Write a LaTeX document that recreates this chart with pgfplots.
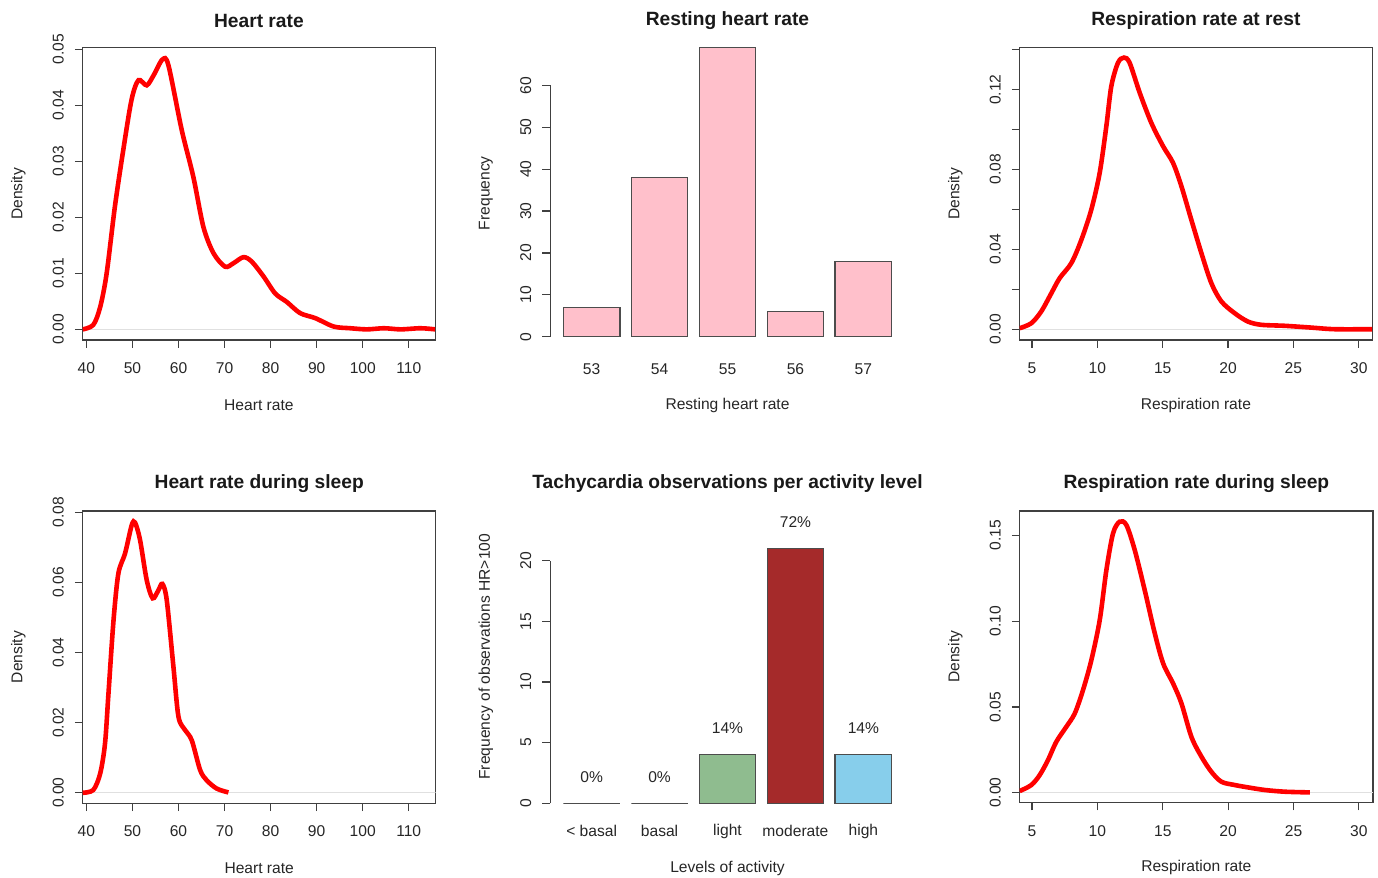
\documentclass[border=0pt]{standalone}
\usepackage{fontspec}
\setmainfont{Liberation Sans}
\usepackage{pgfplots}
\pgfplotsset{compat=1.18}
\definecolor{rpink}{HTML}{FFC0CB}
\definecolor{rgreen}{HTML}{8FBC8F}
\definecolor{rbrown}{HTML}{A52A2A}
\definecolor{rsky}{HTML}{87CEEB}
\pgfplotsset{
  rbase/.style={
    scale only axis, anchor=south west,
    tick align=outside, major tick length=3.9pt, tick pos=left,
    scaled y ticks=false, scaled x ticks=false,
    /pgf/number format/assume math mode=true,
    tick label style={font=\fontsize{7.8}{9}\selectfont, text=black!85},
    label style={font=\fontsize{7.8}{9}\selectfont, text=black!85},
    every axis title/.style={font=\fontsize{9.6}{11}\selectfont\bfseries, text=black!90, at={(0.5,1)}, anchor=center},
    xticklabel style={anchor=center}, xticklabel shift=10.2pt,
    yticklabel style={rotate=90, anchor=center}, yticklabel shift=8.3pt,
    tick style={black!75, line width=0.6pt},
    axis line style={black!75, line width=0.6pt},
    x label style={at={(axis description cs:0.5,0)}, anchor=center, yshift=-32.5pt},
  },
  dens/.style={red, line width=2.3pt, smooth, tension=0.5},
  zline/.style={black!12, line width=0.7pt},
}
\begin{document}
\begin{tikzpicture}
\useasboundingbox (0,0) rectangle (689pt,439pt);
% Panel 1: Heart rate
\begin{axis}[rbase, at={(41.35pt,269pt)}, width=176.2pt, height=146.1pt,
  xmin=39.2, xmax=115.7, ymin=-0.0019, ymax=0.0503,
  xtick={40,50,60,70,80,90,100,110},
  ytick={0,0.01,0.02,0.03,0.04,0.05}, yticklabels={0.00,0.01,0.02,0.03,0.04,0.05},
  title={Heart rate}, title style={yshift=13.5pt},
  xlabel={Heart rate}, ylabel={Density},
  y label style={at={([xshift=-32.2pt]axis description cs:0,0.5)}, anchor=center}]
\addplot[zline] coordinates {(39.2,0) (115.7,0)};
\addplot[dens] coordinates {
(39.2,0) (41.5,0.0008) (43.0,0.004) (44.4,0.010) (46.2,0.022) (48.0,0.032)
(49.8,0.041) (51.3,0.0445) (53.1,0.0436) (54.6,0.0454) (56.5,0.0482) (57.8,0.0472)
(60.7,0.0356) (63.2,0.0273) (65.4,0.0183) (67.6,0.0136) (70.1,0.0112) (71.9,0.0118)
(74.1,0.0129) (75.9,0.0121) (78.5,0.0094) (81.0,0.0064) (83.5,0.0049) (86.4,0.0029)
(89.7,0.0020) (93.7,0.0005) (97.3,0.0002) (100.9,0.0) (104.6,0.0002) (108.2,0.0)
(112.5,0.0002) (115.7,0.0)};
\end{axis}
% Panel 2: Resting heart rate
\begin{axis}[rbase, at={(275.1pt,270.65pt)}, width=177.3pt, height=125.65pt,
  xmin=-0.61, xmax=4.61, ymin=0, ymax=60, clip=false,
  axis lines*=left, x axis line style={draw=none},
  xtick={0,1,2,3,4}, xticklabels={53,54,55,56,57}, xtick style={draw=none},
  xticklabel shift=12.2pt,
  ytick={0,10,20,30,40,50,60},
  title={Resting heart rate}, title style={yshift=32.35pt},
  xlabel={Resting heart rate}, x label style={yshift=-1.65pt},
  ylabel={Frequency},
  y label style={at={([xshift=-32.2pt]axis description cs:0,0.571)}, anchor=center}]
\addplot[ybar, bar shift=0pt, bar width=0.8333, fill=rpink, draw=black!70, line width=0.6pt]
  coordinates {(0,7) (1,38) (2,69) (3,6) (4,18)};
\end{axis}
% Panel 3: Respiration rate at rest
\begin{axis}[rbase, at={(509.85pt,269pt)}, width=176.2pt, height=146.1pt,
  xmin=4.06, xmax=31.02, ymin=-0.0054, ymax=0.1409,
  xtick={5,10,15,20,25,30},
  ytick={0,0.02,0.04,0.06,0.08,0.10,0.12,0.14},
  yticklabels={0.00,{},0.04,{},0.08,{},0.12,{}},
  title={Respiration rate at rest}, title style={yshift=13.5pt},
  xlabel={Respiration rate}, ylabel={Density},
  y label style={at={([xshift=-32.2pt]axis description cs:0,0.5)}, anchor=center}]
\addplot[zline] coordinates {(4.06,0) (31.02,0)};
\addplot[dens] coordinates {
(4.06,0.0005) (4.95,0.003) (5.71,0.0089) (6.48,0.018) (7.12,0.0256) (8.01,0.0331)
(8.78,0.0448) (9.54,0.0599) (10.18,0.0783) (10.69,0.1017) (11.07,0.1217) (11.58,0.1334)
(12.04,0.136) (12.47,0.1334) (13.24,0.1184) (14.13,0.1033) (15.03,0.0916) (15.79,0.0833)
(16.43,0.0716) (17.19,0.0548) (17.96,0.0381) (18.72,0.0231) (19.49,0.0139) (20.51,0.008)
(21.53,0.0038) (22.55,0.0022) (24.34,0.0017) (26.38,0.0008) (28.16,0.0) (31.02,0.0)};
\end{axis}
% Panel 4: Heart rate during sleep
\begin{axis}[rbase, at={(41.35pt,37.35pt)}, width=176.5pt, height=146.15pt,
  xmin=39.2, xmax=115.86, ymin=-0.003, ymax=0.0804,
  xtick={40,50,60,70,80,90,100,110},
  ytick={0,0.02,0.04,0.06,0.08}, yticklabels={0.00,0.02,0.04,0.06,0.08},
  title={Heart rate during sleep}, title style={yshift=13.5pt},
  xlabel={Heart rate}, ylabel={Density},
  y label style={at={([xshift=-32.2pt]axis description cs:0,0.5)}, anchor=center}]
\addplot[zline] coordinates {(39.2,0) (115.86,0)};
\addplot[dens] coordinates {
(39.2,0) (41.5,0.0008) (43.0,0.0055) (44.05,0.0141) (44.8,0.0284) (45.9,0.0493)
(46.95,0.0626) (48.4,0.0683) (49.85,0.0764) (50.57,0.0771) (51.66,0.0721) (53.1,0.0607)
(54.4,0.0555) (55.64,0.0578) (56.5,0.0596) (57.45,0.055) (58.9,0.036) (60.0,0.0217)
(61.43,0.0179) (62.88,0.015) (64.7,0.0065) (66.1,0.0036) (68.3,0.0012) (70.85,0.0001)};
\end{axis}
% Panel 5: Tachycardia
\begin{axis}[rbase, at={(275.1pt,37.35pt)}, width=177.3pt, height=121.3pt,
  xmin=-0.61, xmax=4.61, ymin=0, ymax=20, clip=false,
  axis lines*=left, x axis line style={draw=none},
  xtick={0,1,2,3,4}, xticklabels={{< basal},basal,light,moderate,high}, xtick style={draw=none},
  xticklabel shift=10.1pt,
  ytick={0,5,10,15,20},
  title={Tachycardia observations per activity level}, title style={yshift=38.35pt},
  xlabel={Levels of activity}, ylabel={Frequency of observations HR>100},
  y label style={at={([xshift=-32.2pt]axis description cs:0,0.604)}, anchor=center}]
\pgfplotsset{tb/.style={ybar, bar shift=0pt, bar width=0.8333, draw=black!70, line width=0.6pt,
  every node near coord/.append style={anchor=center, yshift=13.3pt, font=\fontsize{7.8}{9}\selectfont, text=black!85}}}
\addplot[tb, fill=white, nodes near coords={0\%}] coordinates {(0,0)};
\addplot[tb, fill=white, nodes near coords={0\%}] coordinates {(1,0)};
\addplot[tb, fill=rgreen, nodes near coords={14\%}] coordinates {(2,4)};
\addplot[tb, fill=rbrown, nodes near coords={72\%}] coordinates {(3,21)};
\addplot[tb, fill=rsky, nodes near coords={14\%}] coordinates {(4,4)};
\end{axis}
% Panel 6: Respiration rate during sleep
\begin{axis}[rbase, at={(509.85pt,37.65pt)}, width=176.65pt, height=145.85pt,
  xmin=4.06, xmax=31.08, ymin=-0.0058, ymax=0.1642,
  xtick={5,10,15,20,25,30},
  ytick={0,0.05,0.10,0.15}, yticklabels={0.00,0.05,0.10,0.15},
  title={Respiration rate during sleep}, title style={yshift=13.5pt},
  xlabel={Respiration rate}, ylabel={Density},
  y label style={at={([xshift=-32.2pt]axis description cs:0,0.5)}, anchor=center}]
\addplot[zline] coordinates {(4.06,0) (31.08,0)};
\addplot[dens] coordinates {
(4.06,0.001) (4.95,0.0045) (5.59,0.0103) (6.22,0.019) (6.86,0.0297) (7.63,0.0385)
(8.27,0.0462) (8.9,0.0598) (9.54,0.0773) (10.18,0.1006) (10.69,0.1298) (11.2,0.1512)
(11.71,0.158) (12.22,0.156) (12.86,0.1414) (13.62,0.1181) (14.39,0.0929) (15.03,0.0754)
(15.79,0.0637) (16.43,0.0521) (17.19,0.0326) (17.96,0.021) (18.72,0.0122) (19.49,0.0064)
(20.51,0.0045) (21.53,0.0031) (22.81,0.0016) (24.34,0.0006) (26.25,0.0002)};
\end{axis}
\end{tikzpicture}
\end{document}
